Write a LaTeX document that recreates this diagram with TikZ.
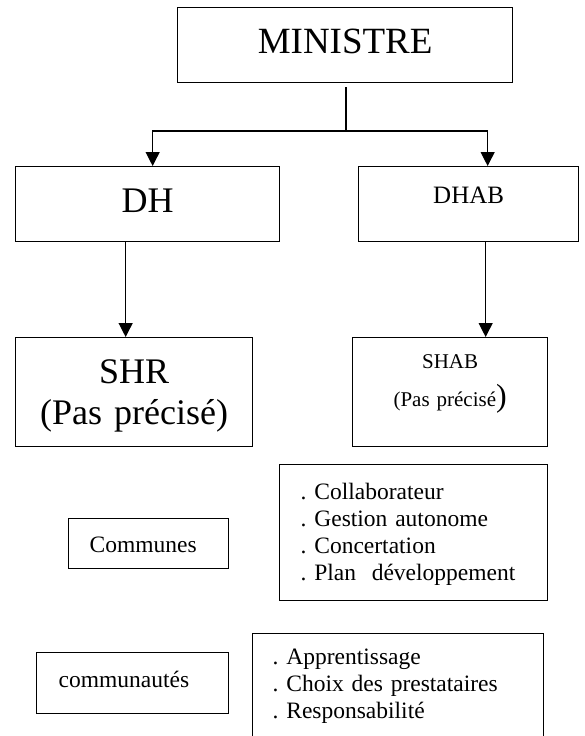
\documentclass[tikz,border=0pt]{standalone}
\usepackage{fontspec}
\setmainfont{Liberation Serif}
\usepackage{tikz}
\usetikzlibrary{arrows.meta}
\frenchspacing

\begin{document}
\begin{tikzpicture}[
    x=1pt, y=-1pt,
    box/.style={draw, line width=1.3pt, rectangle, inner sep=0pt, anchor=north west},
    midbox/.style={box, align=center},
    listbox/.style={box, align=left, font=\fontsize{23.5}{27}\selectfont},
    arrow/.style={-{Triangle[length=14pt,width=14pt]}, line width=1.2pt}
]
    \useasboundingbox (0,0) rectangle (585,736);
    \clip (0,0) rectangle (585,736);

    % Top
    \node[midbox, text width=335pt, text height=46pt, text depth=29pt,
          font=\fontsize{37}{44}\selectfont] (MIN) at (177,7) {MINISTRE};

    % Directions
    \node[midbox, text width=264pt, text height=46pt, text depth=29pt,
          font=\fontsize{36}{41}\selectfont] (DH) at (15,166) {DH};
    \node[midbox, text width=220pt, text height=37pt, text depth=38pt,
          font=\fontsize{25}{30}\selectfont] (DHAB) at (358,166) {DHAB};

    % Services
    \node[midbox, text width=237pt, text height=46pt, text depth=63pt,
          font=\fontsize{36}{41}\selectfont] (SHR) at (15,337) {SHR\\(Pas précisé)};
    \node[midbox, text width=195pt, text height=31pt, text depth=78pt,
          font=\fontsize{21}{38}\selectfont] (SHAB) at (352,337)
          {SHAB\\(Pas précisé{\fontsize{32}{38}\selectfont)}};

    % Local actors
    \node[listbox, inner xsep=21pt, text width=118pt, text height=34pt, text depth=16pt]
          (COMM) at (68,518) {Communes};
    \node[listbox, inner xsep=21pt, text width=226pt, text height=35pt, text depth=101pt]
          (COLL) at (279,464)
          {. Collaborateur\\. Gestion autonome\\. Concertation\\. Plan~ développement};
    \node[listbox, inner xsep=22pt, text width=148pt, text height=35pt, text depth=26pt]
          (COMT) at (36,652) {communautés};
    \node[listbox, inner xsep=20pt, text width=251pt, text height=31pt, text depth=81pt]
          (ROLE) at (252,633)
          {. Apprentissage\\. Choix des prestataires\\. Responsabilité};

    % Arrows
    \coordinate (split) at (346,131);
    \draw[line width=1.2pt, shorten <=4pt] (MIN.south -| split) -- (split);
    \draw[arrow] (split) -| ([xshift=5pt]DH.north);
    \draw[arrow] (split) -| ([xshift=19pt]DHAB.north);

    \draw[arrow] ([xshift=-22pt]DH.south) -- ([xshift=-8.5pt]SHR.north);
    \draw[arrow] ([xshift=17pt]DHAB.south) -- ([xshift=35.5pt]SHAB.north);
\end{tikzpicture}
\end{document}
